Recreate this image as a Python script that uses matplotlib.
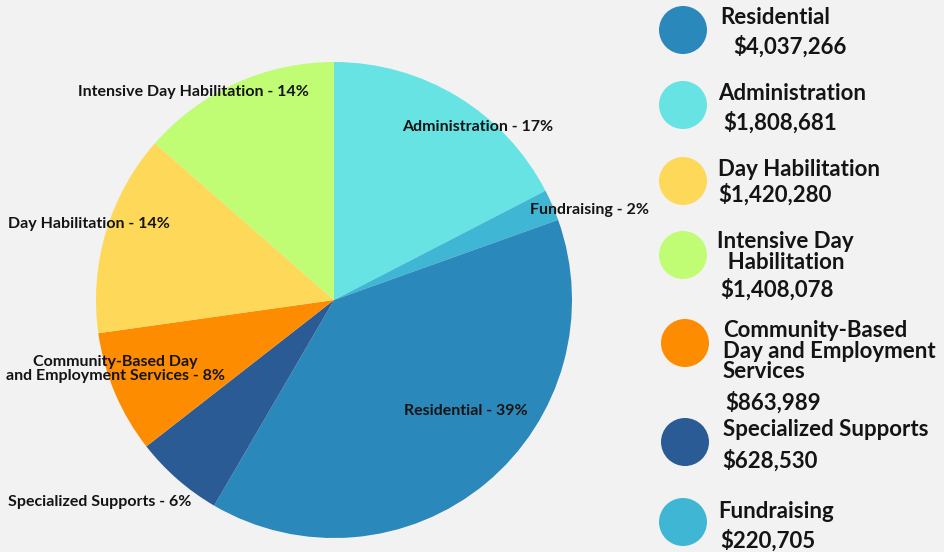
import matplotlib

matplotlib.use("Agg")
import matplotlib.pyplot as plt

# data, clockwise from 12 o'clock
categories = [
    "Administration",
    "Fundraising",
    "Residential",
    "Specialized Supports",
    "Community-Based Day and Employment Services",
    "Day Habilitation",
    "Intensive Day Habilitation",
]
amounts = [1808681, 220705, 4037266, 628530, 863989, 1420280, 1408078]
colors = ["#67e3e3", "#40b6d5", "#2b88bb", "#2a5b94", "#fe8c00", "#fed959", "#c1fd74"]

# slice labels as printed on the chart
slice_labels = [
    "Administration - 17%",
    "Fundraising - 2%",
    "Residential - 39%",
    "Specialized Supports - 6%",
    "Community-Based Day\nand Employment Services - 8%",
    "Day Habilitation - 14%",
    "Intensive Day Habilitation - 14%",
]
# label anchors in pixel coords (x, y from top), and horizontal alignment
slice_label_pos = [(478, 127), (530, 210), (466, 411), (8, 502), (115, 369), (8, 224), (193, 92)]
slice_label_ha = ["center", "left", "center", "left", "center", "left", "center"]

# legend on the right, top to bottom
legend_order = [2, 0, 5, 6, 4, 3, 1]
legend_names = [
    "Residential",
    "Administration",
    "Day Habilitation",
    "Intensive Day\n  Habilitation",
    "Community-Based\nDay and Employment\nServices",
    "Specialized Supports",
    "Fundraising",
]
legend_amounts = ["$4,037,266", "$1,808,681", "$1,420,280", "$1,408,078", "$863,989", "$628,530", "$220,705"]
# layout for legend rows: circle center, name (x, y), amount (x, y)
legend_circle_y = [30, 105, 181, 255, 343, 442, 522]
legend_circle_x = [683, 683, 683, 683, 685, 685, 683]
legend_name_pos = [(720, 17), (718, 93), (718, 169), (717, 252), (723, 351), (723, 430), (718, 511)]
legend_amount_pos = [(733, 47), (723, 123), (718, 195), (720, 290), (725, 403), (722, 461), (720, 541)]

W, H = 945, 552
BG = "#f2f2f2"
INK = "#141414"
FONT = "Lato"


def flip(y):
    return H - y


fig = plt.figure(figsize=(W / 100, H / 100), dpi=100, facecolor=BG)
ax = fig.add_axes([0, 0, 1, 1])
ax.set_facecolor(BG)

ax.pie(
    amounts,
    colors=colors,
    startangle=90,
    counterclock=False,
    center=(334, flip(300)),
    radius=238,
    frame=True,
    wedgeprops={"linewidth": 0},
)
ax.set_xlim(0, W)
ax.set_ylim(0, H)
ax.set_aspect("equal")
ax.axis("off")

for text, (x, y), ha in zip(slice_labels, slice_label_pos, slice_label_ha):
    ax.text(x, flip(y), text, ha=ha, va="center", fontsize=11.5, fontweight="bold",
            family=FONT, color=INK, linespacing=1.0)

for k, idx in enumerate(legend_order):
    ax.scatter([legend_circle_x[k]], [flip(legend_circle_y[k])], s=(48 * 0.72) ** 2,
               color=colors[idx], edgecolors="none", zorder=3)
    nx, ny = legend_name_pos[k]
    ax.text(nx, flip(ny), legend_names[k], ha="left", va="center", fontsize=16,
            fontweight="bold", family=FONT, color=INK, linespacing=0.95)
    mx, my = legend_amount_pos[k]
    ax.text(mx, flip(my), legend_amounts[k], ha="left", va="center", fontsize=16,
            fontweight="bold", family=FONT, color=INK)

fig.savefig("out.png", dpi=100, facecolor=BG)
